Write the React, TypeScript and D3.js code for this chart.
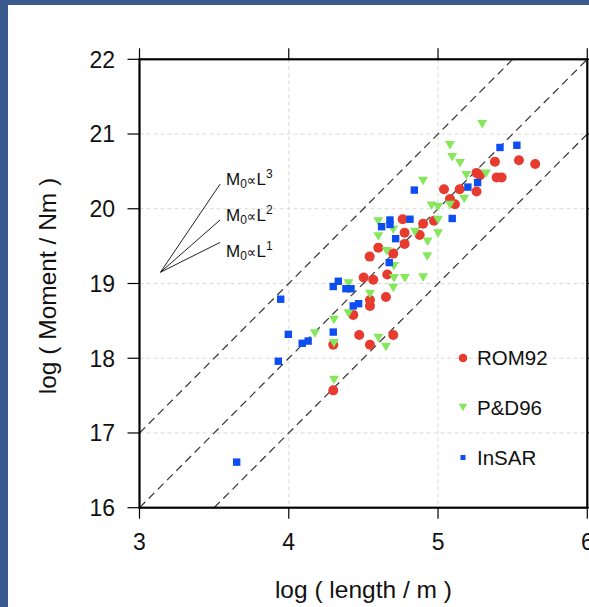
import React from "react";
import * as d3 from "d3";

const xTicks = [3, 4, 5, 6];
const yTicks = [16, 17, 18, 19, 20, 21, 22];

const rom92: [number, number][] = [
  [4.298, 17.57], [4.298, 18.18], [4.472, 18.31], [4.544, 18.18], [4.70, 18.31],
  [4.432, 18.58], [4.544, 18.78], [4.544, 18.70], [4.651, 18.82], [4.502, 19.08],
  [4.566, 19.05], [4.66, 19.12], [4.542, 19.36], [4.70, 19.40], [4.60, 19.48],
  [4.776, 19.53], [4.776, 19.68], [4.877, 19.65], [4.763, 19.86], [4.90, 19.80],
  [4.973, 19.84], [5.04, 20.26], [5.145, 20.26], [5.08, 20.13], [5.113, 20.06],
  [5.258, 20.23], [5.258, 20.48], [5.281, 20.45], [5.393, 20.42], [5.426, 20.42],
  [5.381, 20.63], [5.542, 20.65], [5.651, 20.60],
];

const pd96: [number, number][] = [
  [4.303, 17.71], [4.303, 18.20], [4.175, 18.33], [4.303, 18.51], [4.40, 18.60],
  [4.60, 18.27], [4.651, 18.15], [4.544, 18.86], [4.40, 19.00], [4.70, 18.94],
  [4.705, 19.07], [4.778, 19.07], [4.90, 19.08], [4.705, 19.23], [4.656, 19.43],
  [4.928, 19.36], [4.93, 19.56], [4.60, 19.63], [4.60, 19.83], [4.70, 19.72],
  [4.845, 19.69], [5.00, 19.67], [5.00, 19.85], [4.957, 20.04], [5.00, 20.02],
  [5.08, 20.05], [5.175, 20.13], [4.90, 20.37], [5.19, 20.45], [5.321, 20.47],
  [5.08, 20.85], [5.095, 20.69], [5.147, 20.61], [5.296, 21.13],
];

const insar: [number, number][] = [
  [3.651, 16.61], [3.93, 17.96], [3.946, 18.79], [3.997, 18.32], [4.09, 18.20],
  [4.13, 18.23], [4.298, 18.35], [4.298, 18.96], [4.332, 19.03], [4.383, 18.93],
  [4.417, 18.93], [4.432, 18.70], [4.468, 18.73], [4.673, 19.28], [4.716, 19.60],
  [4.622, 19.76], [4.678, 19.85], [4.678, 19.79], [4.812, 19.86], [4.841, 20.25],
  [5.095, 19.87], [5.20, 20.29], [5.265, 20.35], [5.415, 20.82], [5.528, 20.85],
];

// reference lines y = 2x + c
const refSlope = 2;
const refIntercepts = [11, 10, 9];

// annotation: scaling lines
const annotApex: [number, number] = [3.14, 19.15];
const annotEndX = 3.54;
const annotEndY = [20.33, 19.85, 19.55];
const annotExps = ["3", "2", "1"];

const legendLabels = ["ROM92", "P&D96", "InSAR"];

const W = 589;
const H = 607;
const FONT = "'Liberation Sans', Arial, Helvetica, sans-serif";
const RED = "#e63b2e";
const GREEN = "#85e85b";
const BLUE = "#0c4ef2";

export default function App() {
  const x = d3.scaleLinear().domain([3, 6]).range([139.5, 587.3]);
  const y = d3.scaleLinear().domain([16, 22]).range([507.7, 59.3]);
  const [x0, x1] = x.range();
  const [y0, y1] = [y(22), y(16)];

  const refLines = refIntercepts.map((c) => {
    const xa = Math.max(3, (16 - c) / refSlope);
    const xb = Math.min(6, (22 - c) / refSlope);
    return [x(xa), y(refSlope * xa + c), x(xb), y(refSlope * xb + c)];
  });

  const tri = (cx: number, cy: number, w: number, h: number) =>
    `M${cx - w / 2},${cy - h / 2}L${cx + w / 2},${cy - h / 2}L${cx},${cy + h / 2}Z`;

  const legendY = [358, 407.5, 457.5];
  const legendTextY = [365, 415, 465];

  return (
    <svg
      width={W}
      height={H}
      style={{ position: "absolute", left: 0, top: 0, background: "#fff" }}
      fontFamily={FONT}
    >
      <rect x={0} y={0} width={W} height={H} fill="#fff" />
      <rect x={0} y={0} width={8} height={H} fill="#3a5a8d" />
      <rect x={0} y={0} width={W} height={5} fill="#3a5a8d" />

      {/* grid */}
      {xTicks.filter((t) => t > 3 && t < 6).map((t) => (
        <line key={"gx" + t} x1={x(t)} x2={x(t)} y1={y0} y2={y1} stroke="#d9d9d9" strokeWidth={1} strokeDasharray="4,3" />
      ))}
      {yTicks.filter((t) => t > 16 && t < 22).map((t) => (
        <line key={"gy" + t} x1={x0} x2={x1} y1={y(t)} y2={y(t)} stroke="#d9d9d9" strokeWidth={1} strokeDasharray="4,3" />
      ))}

      {/* reference lines */}
      {refLines.map((l, i) => (
        <line key={"r" + i} x1={l[0]} y1={l[1]} x2={l[2]} y2={l[3]} stroke="#333" strokeWidth={1.2} strokeDasharray="8,5" />
      ))}

      {/* annotation */}
      {annotEndY.map((ey, i) => (
        <line key={"a" + i} x1={x(annotApex[0])} y1={y(annotApex[1])} x2={x(annotEndX)} y2={y(ey)} stroke="#222" strokeWidth={1} />
      ))}
      {annotExps.map((e, i) => (
        <text key={"at" + i} x={226} y={[185, 220.5, 257][i]} fontSize={17} fill="#111">
          M<tspan fontSize={12} dy={3}>0</tspan>
          <tspan dy={-3} fontFamily="'DejaVu Sans', sans-serif" fontSize={13.5}>∝</tspan>L
          <tspan fontSize={12} dy={-7}>{e}</tspan>
        </text>
      ))}

      {/* data */}
      {rom92.map((d, i) => (
        <circle key={"c" + i} cx={x(d[0])} cy={y(d[1])} r={5} fill={RED} />
      ))}
      {pd96.map((d, i) => (
        <path key={"t" + i} d={tri(x(d[0]), y(d[1]), 10, 8.5)} fill={GREEN} />
      ))}
      {insar.map((d, i) => (
        <rect key={"s" + i} x={x(d[0]) - 3.7} y={y(d[1]) - 3.7} width={7.4} height={7.4} fill={BLUE} />
      ))}

      {/* legend */}
      <circle cx={463} cy={legendY[0]} r={4.3} fill={RED} />
      <path d={tri(463, legendY[1], 8.5, 7.5)} fill={GREEN} />
      <rect x={460.5} y={legendY[2] - 2.5} width={5} height={5} fill={BLUE} />
      {legendLabels.map((l, i) => (
        <text key={"l" + i} x={477} y={legendTextY[i]} fontSize={20.5} fill="#111">{l}</text>
      ))}

      {/* frame */}
      <rect x={x0} y={y0} width={x1 - x0} height={y1 - y0} fill="none" stroke="#000" strokeWidth={2.2} />

      {/* ticks */}
      {xTicks.map((t) => (
        <g key={"xt" + t}>
          <line x1={x(t)} x2={x(t)} y1={y1} y2={y1 + 11} stroke="#000" strokeWidth={1.2} />
          <line x1={x(t)} x2={x(t)} y1={y0} y2={y0 - 11} stroke="#000" strokeWidth={1.2} />
          <text x={x(t)} y={550} fontSize={23} textAnchor="middle" fill="#111">{t}</text>
        </g>
      ))}
      {yTicks.map((t) => (
        <g key={"yt" + t}>
          <line x1={x0} x2={x0 - 12} y1={y(t)} y2={y(t)} stroke="#000" strokeWidth={1.2} />
          <line x1={x1} x2={x1 + 12} y1={y(t)} y2={y(t)} stroke="#000" strokeWidth={1.2} />
          <text x={115} y={y(t) + 8.3} fontSize={23} textAnchor="end" fill="#111">{t}</text>
        </g>
      ))}

      {/* axis titles */}
      <text x={(x0 + x1) / 2} y={598} fontSize={24.5} textAnchor="middle" fill="#111">log ( length / m )</text>
      <text transform={`translate(56,286) rotate(-90)`} fontSize={24.5} textAnchor="middle" fill="#111">log ( Moment / Nm )</text>
    </svg>
  );
}
